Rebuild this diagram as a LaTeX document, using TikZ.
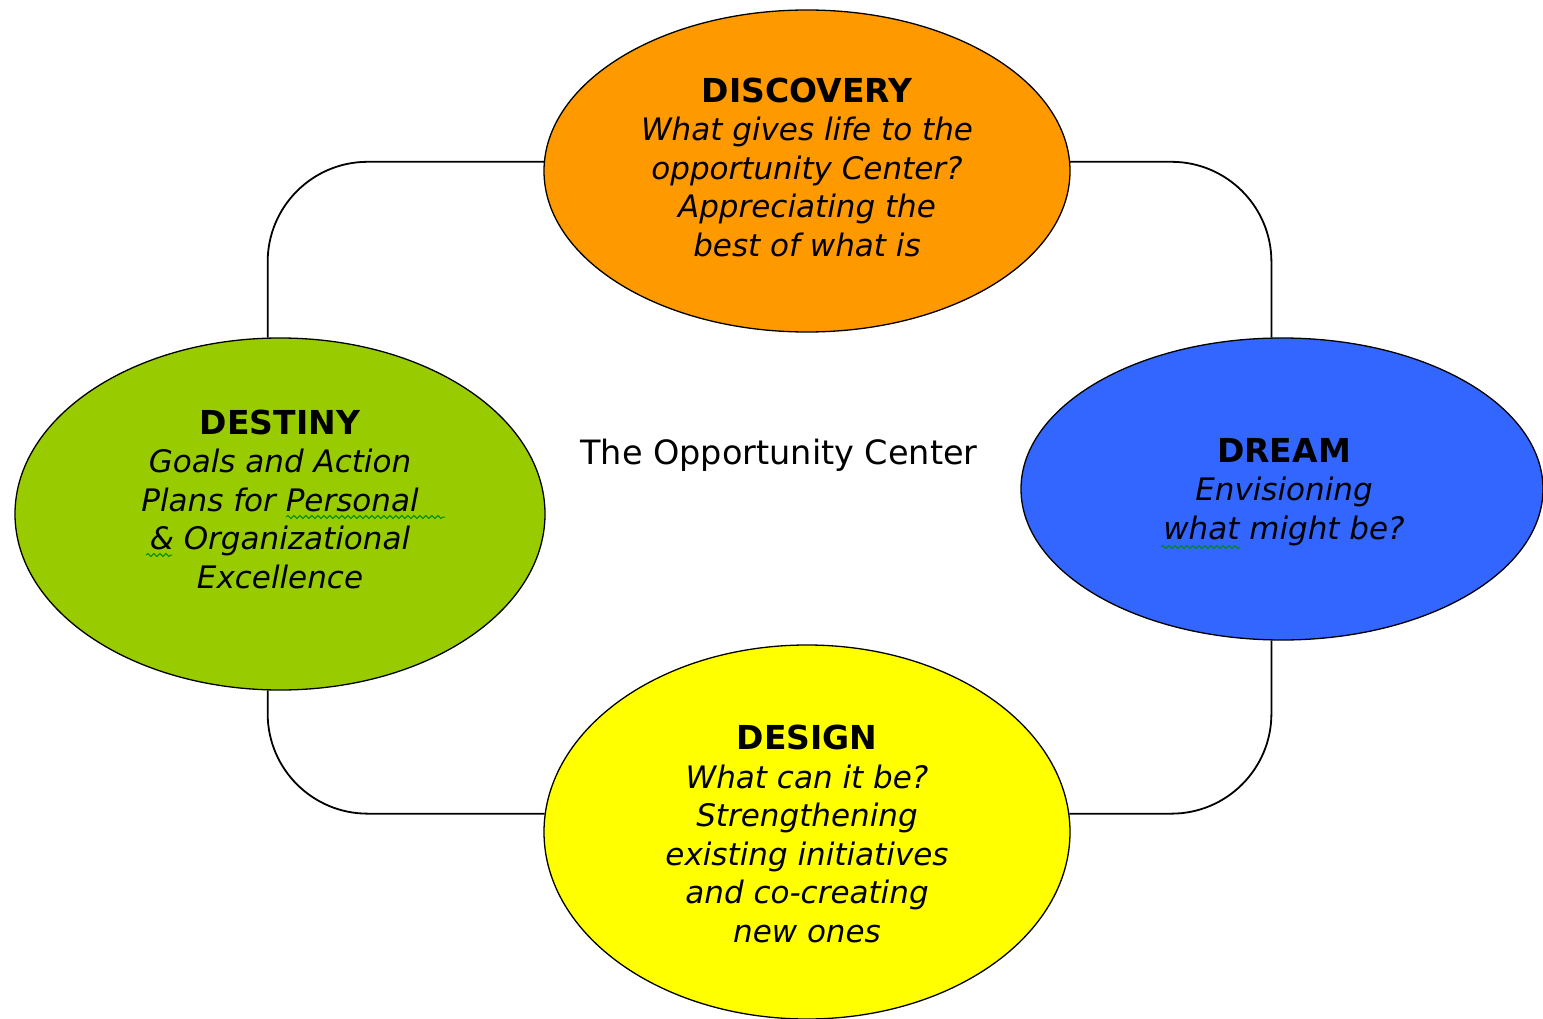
\documentclass[tikz,border=0pt]{standalone}
\usepackage{fontspec}
\setmainfont{DejaVu Sans}
\usetikzlibrary{shapes.geometric,decorations.pathmorphing}
\definecolor{discorange}{RGB}{255,153,0}
\definecolor{dreamblue}{RGB}{51,102,255}
\definecolor{destgreen}{RGB}{153,204,0}
\definecolor{designyellow}{RGB}{255,255,0}
\newcommand{\stagetitle}[1]{{\fontsize{33}{38}\selectfont\upshape\bfseries #1}\\}

\begin{document}
\begin{tikzpicture}[
  x=1pt,y=-1pt,
  stage/.style={draw,ellipse,line width=1.3pt,inner sep=0pt},
  stagetext/.style={align=center,font=\fontsize{31}{38.5}\selectfont\itshape},
  link/.style={draw,line width=1.8pt,rounded corners=100pt},
  spell/.style={draw=green!55!black,line width=1pt,decorate,
    decoration={snake,amplitude=1.5pt,segment length=6pt}},
  ]
  \useasboundingbox (0,0) rectangle (1543,1019);
  \node(disc)[stage,fill=discorange,minimum width=526pt,minimum height=322pt] at (807,171){};
  \node(dream)[stage,fill=dreamblue,minimum width=522pt,minimum height=302pt] at (1282,489){};
  \node(dest)[stage,fill=destgreen,minimum width=530pt,minimum height=352pt] at (280,514){};
  \node(design)[stage,fill=designyellow,minimum width=526pt,minimum height=374pt] at (807,832){};
  \path[link] (disc.178) -| (dest.94);
  \path[link] (disc.2) -| (dream.94);
  \path[link] (dream.266) |- (design.4);
  \path[link] (dest.266) |- (design.176);
  \node(disc-text)[stagetext] at (807,167){\stagetitle{DISCOVERY}What gives life to the\\
    opportunity Center?\\ Appreciating the\\ best of what is};
  \node(dream-text)[stagetext] at (1284,492){\stagetitle{DREAM}Envisioning\\ what might be?};
  \node(dest-text)[stagetext] at (280,499){\stagetitle{DESTINY}Goals and Action\\
    Plans for Personal\\ \& Organizational\\ Excellence};
  \node(design-text)[stagetext] at (807,834){\stagetitle{DESIGN}What can it be?\\
    Strengthening\\ existing initiatives\\ and co-creating\\ new ones};
  \node(center)[font=\fontsize{33.5}{38}\selectfont] at (779,455){The Opportunity Center};
  \path[spell] (286,517) -- (445,517);
  \path[spell] (146,555) -- (172,555);
  \path[spell] (1161,547) -- (1240,547);
\end{tikzpicture}
\end{document}
